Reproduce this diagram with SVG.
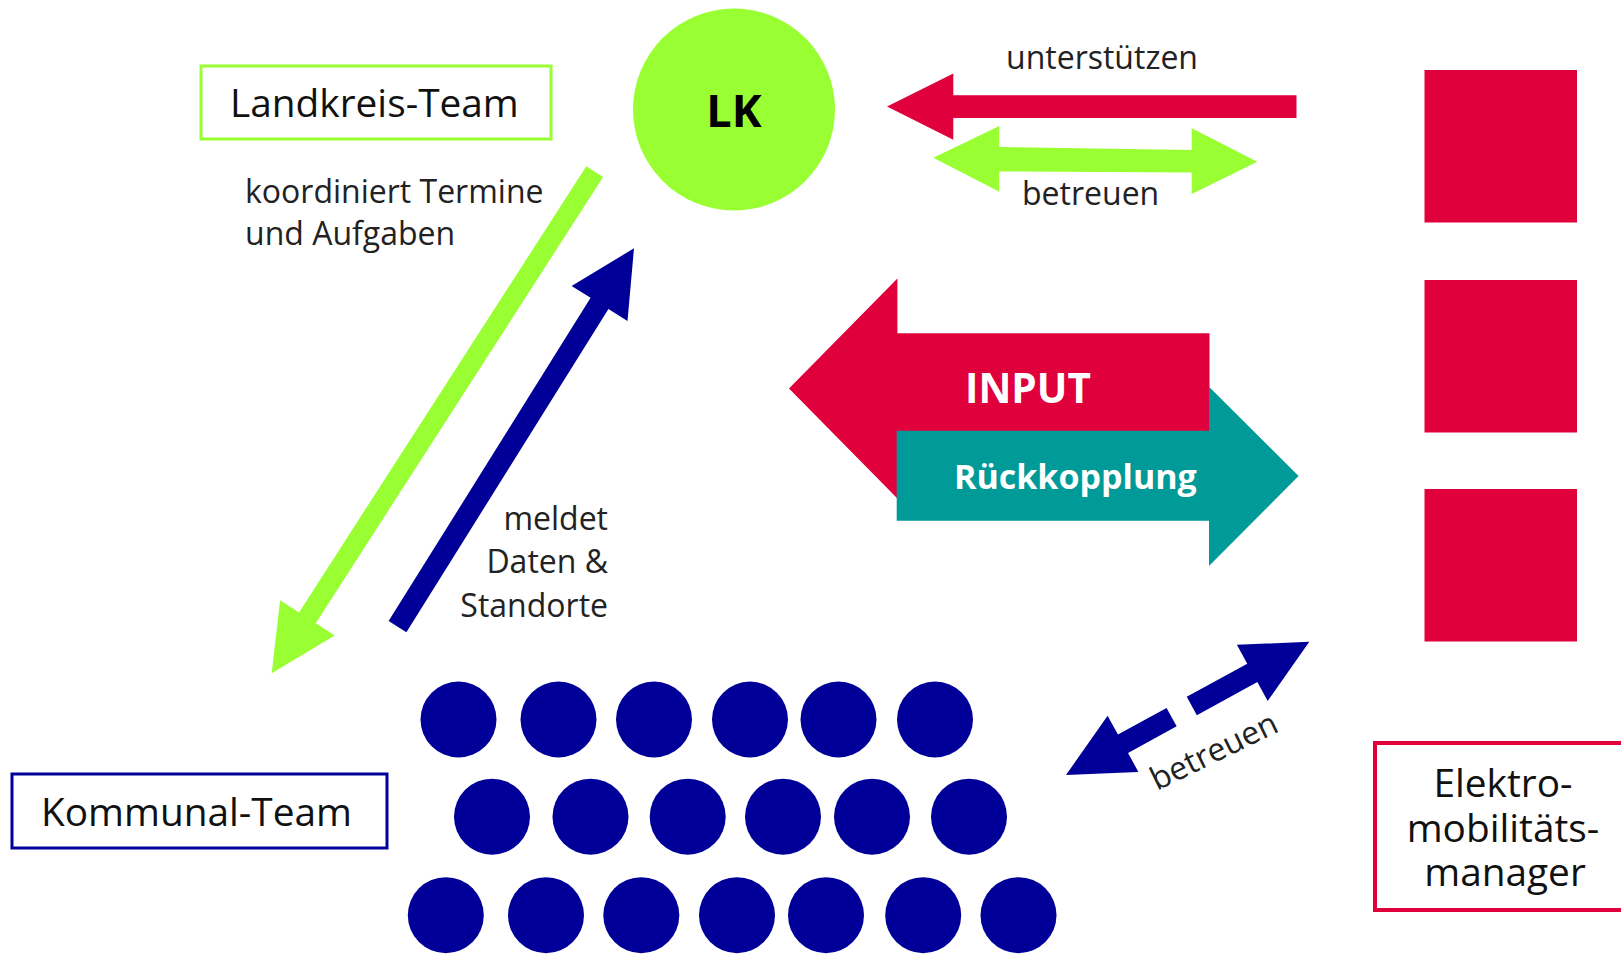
<svg xmlns="http://www.w3.org/2000/svg" width="1621" height="954" viewBox="0 0 1621 954">
  <style>
    .lbl { font-family: "Open Sans", "Noto Sans", "Liberation Sans", sans-serif; fill: #222; font-size: 32px; }
    .box { font-family: "Open Sans", "Noto Sans", "Liberation Sans", sans-serif; fill: #111; font-size: 38.8px; }
    .bold { font-family: "Open Sans", "Noto Sans", "Liberation Sans", sans-serif; font-weight: bold; }
    .green { fill: #99FF33; }
    .red { fill: #E0003B; }
    .blue { fill: #000099; }
    .teal { fill: #009A98; }
  </style>
  <rect width="1621" height="954" fill="#ffffff"/>

  <!-- Landkreis team label -->
  <g id="landkreis-team">
    <rect x="201" y="66" width="350" height="73" fill="none" stroke="#99FF33" stroke-width="3"/>
    <text class="box" x="230" y="117">Landkreis-Team</text>
  </g>

  <!-- LK circle -->
  <g id="lk">
    <circle class="green" cx="734" cy="109.5" r="101"/>
    <text class="bold" x="734" y="127" font-size="45" text-anchor="middle" fill="#000">LK</text>
  </g>

  <!-- Elektromobilitätsmanager squares -->
  <g id="managers">
    <rect class="red" x="1424.5" y="70" width="152.5" height="152.5"/>
    <rect class="red" x="1424.5" y="280" width="152.5" height="152.5"/>
    <rect class="red" x="1424.5" y="489" width="152.5" height="152.5"/>
  </g>

  <!-- Elektromobilitätsmanager label -->
  <g id="manager-label">
    <rect x="1375" y="743" width="260" height="167" fill="none" stroke="#E0003B" stroke-width="4"/>
    <text class="box" font-size="40" text-anchor="middle" x="1503" y="797">Elektro-</text>
    <text class="box" font-size="40" text-anchor="middle" x="1503" y="842">mobilitäts-</text>
    <text class="box" font-size="40" text-anchor="middle" x="1505" y="886">manager</text>
  </g>

  <!-- Kommunal team label -->
  <g id="kommunal-team">
    <rect x="12" y="774" width="375" height="74" fill="none" stroke="#000099" stroke-width="3"/>
    <text class="box" font-size="40.5" x="41" y="826">Kommunal-Team</text>
  </g>

  <!-- Municipalities -->
  <g id="kommunen" class="blue">
    <circle cx="458.5" cy="719.5" r="38"/>
    <circle cx="558.5" cy="719.5" r="38"/>
    <circle cx="654" cy="719.5" r="38"/>
    <circle cx="750" cy="719.5" r="38"/>
    <circle cx="838.5" cy="719.5" r="38"/>
    <circle cx="935" cy="719.5" r="38"/>
    <circle cx="492" cy="816.7" r="38"/>
    <circle cx="590.5" cy="816.7" r="38"/>
    <circle cx="687.7" cy="816.7" r="38"/>
    <circle cx="783" cy="816.7" r="38"/>
    <circle cx="872" cy="816.7" r="38"/>
    <circle cx="969" cy="816.7" r="38"/>
    <circle cx="445.8" cy="915.2" r="38"/>
    <circle cx="546" cy="915.2" r="38"/>
    <circle cx="641.3" cy="915.2" r="38"/>
    <circle cx="737" cy="915.2" r="38"/>
    <circle cx="826" cy="915.2" r="38"/>
    <circle cx="923.2" cy="915.2" r="38"/>
    <circle cx="1018.5" cy="915.2" r="38"/>
  </g>

  <!-- Connectors -->
  <g id="connectors">
    <!-- unterstützen: managers to LK -->
    <polygon class="red" points="887,106.5 953.3,73.5 953.3,95.3 1296.5,95.3 1296.5,118 953.3,118 953.3,139.8"/>
    <!-- betreuen: LK and managers -->
    <polygon class="green" points="933.3,157.7 999.3,126 999.3,147 1191.7,150 1191.7,128.3 1257.3,161.7 1191.7,194 1191.7,172.5 999.3,171.5 999.3,191.7"/>
    <!-- INPUT / Rückkopplung -->
    <polygon class="red" points="789,388.5 897.4,278.5 897.4,333.3 1209.5,333.3 1209.5,443.7 897.4,443.7 897.4,498.5"/>
    <polygon class="teal" points="896.7,430.7 1209,430.7 1209,386.7 1298.6,476 1209,566 1209,520.7 896.7,520.7"/>
    <!-- koordiniert Termine: LK to Kommunal -->
    <polygon class="green" points="603.1,177.1 315.8,623.2 334.7,635.4 271.7,673.3 280.1,600.2 299,612.4 586.3,166.3"/>
    <!-- meldet Daten: Kommunal to LK -->
    <polygon class="blue" points="406.4,632.3 608.45,309 627.5,320.9 634,248.3 571.6,285.9 590.6,297.8 388.6,621.1"/>
    <!-- betreuen: managers and municipalities (broken shaft) -->
    <polygon class="blue" points="1066,775 1138.4,771.9 1128.05,753 1176.65,726.3 1166.55,707.9 1117.95,734.6 1107.6,715.7"/>
    <polygon class="blue" points="1309.3,641.7 1236.9,644.8 1247.25,663.7 1186.75,696.8 1196.85,715.2 1257.35,682.1 1267.7,701"/>
  </g>

  <!-- Connector labels -->
  <g id="labels">
    <text class="lbl" x="1006" y="69">unterstützen</text>
    <text class="lbl" x="1022" y="205">betreuen</text>
    <text class="lbl" x="245" y="203">koordiniert Termine</text>
    <text class="lbl" x="245" y="245">und Aufgaben</text>
    <text class="lbl" x="608" y="530" text-anchor="end">meldet</text>
    <text class="lbl" x="608" y="573" text-anchor="end">Daten &amp;</text>
    <text class="lbl" x="608" y="617" text-anchor="end">Standorte</text>
    <text class="lbl" transform="translate(1157 791) rotate(-26)">betreuen</text>
    <text class="bold" x="965" y="403" font-size="40.5" fill="#fff">INPUT</text>
    <text class="bold" x="954" y="489" font-size="34" fill="#fff">Rückkopplung</text>
  </g>
</svg>
